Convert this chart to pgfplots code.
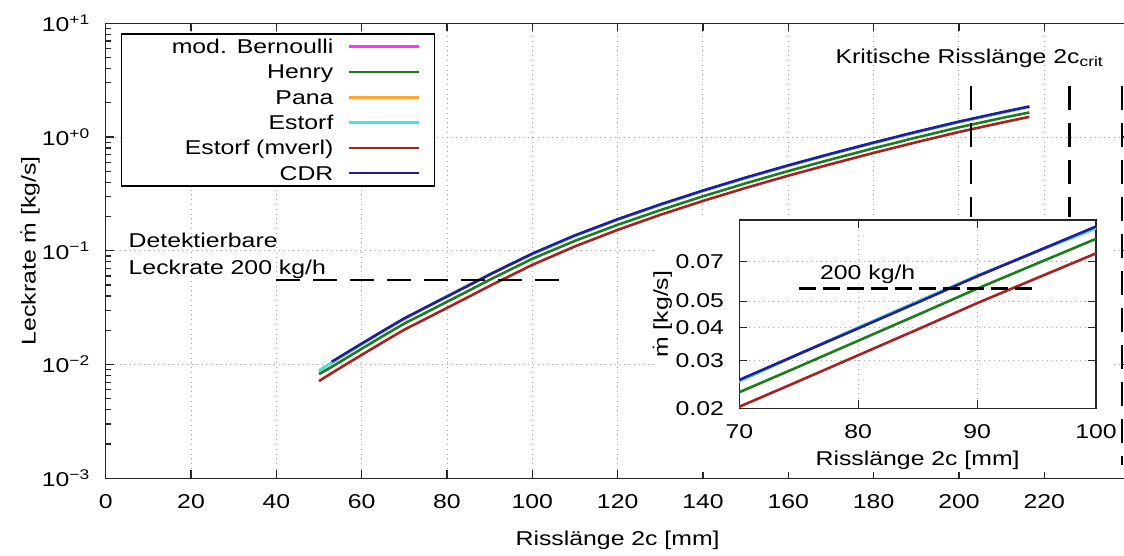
\documentclass[border=0pt]{standalone}
\usepackage{pgfplots}
\pgfplotsset{compat=1.18}
\usepackage{amsmath}
\usepackage{fontspec}
\setmainfont{Liberation Sans}[FakeStretch=1.24]
\definecolor{cMag}{HTML}{FF33FF}
\definecolor{cGreen}{HTML}{1E7B1E}
\definecolor{cOrange}{HTML}{FFA633}
\definecolor{cCyan}{HTML}{3DE8E8}
\definecolor{cRed}{HTML}{A52222}
\definecolor{cBlue}{HTML}{1F1F99}
\begin{document}
\fontsize{10}{12}\selectfont
\begin{tikzpicture}
\pgfplotsset{
  every axis/.append style={
    font=\fontsize{10}{12}\selectfont,
    grid=major, grid style={dotted, gray!70, line width=0.5pt},
    major tick length=4pt, minor tick length=2.5pt,
    tick style={black!85, line width=0.6pt},
    axis line style={black!85, line width=0.7pt},
    xticklabel style={yshift=-4.7pt},
    yticklabel style={xshift=-4.2pt},
  },
}
\begin{axis}[
  name=main,
  scale only axis, width=511.95pt, height=227.5pt,
  xmin=0, xmax=240, ymode=log, ymin=1e-3, ymax=10,
  xtick={0,20,...,220},
  xticklabels={0,20,40,60,80,100,120,140,160,180,200,220},
  ytick={1e-3,1e-2,1e-1,1,10},
  yticklabels={10\textsuperscript{−3},10\textsuperscript{−2},10\textsuperscript{−1},10\textsuperscript{+0},10\textsuperscript{+1}},
  xlabel={Risslänge 2c [mm]},
  ylabel={Leckrate $\dot{\text{m}}$ [kg/s]},
  every axis x label/.style={at={(rel axis cs:0.5,0)}, yshift=-30.85pt, anchor=center},
  every axis y label/.style={at={(rel axis cs:0,0.5)}, xshift=-37.85pt, rotate=90, anchor=center},
  legend style={at={(axis description cs:0,1)}, anchor=north west, xshift=7.5pt, yshift=-5pt,
    draw=black, line width=0.7pt, inner sep=0pt, fill=white, row sep=0pt,
    nodes={text width=104pt, align=right, inner xsep=2pt, inner ysep=1.5pt, text height=8.3pt, text depth=1.35pt}},
  legend plot pos=right, legend cell align=right,
  legend image code/.code={\path[draw=none,fill=none] (0pt,-0.1pt) rectangle (48.65pt,0.1pt); \draw[#1, line width=1.3pt] (5.65pt,0pt) -- (40.65pt,0pt);},
]
\addplot[cMag, line width=1.3pt] coordinates {(50,0.00883) (53,0.0104) (60,0.0151) (65,0.0196) (70,0.0252) (75,0.0318) (80,0.0399) (85,0.0498) (90,0.0621) (95,0.0763) (100,0.0932) (110,0.1354) (120,0.1878) (130,0.2533) (140,0.3354) (150,0.4362) (160,0.5593) (170,0.7074) (180,0.8864) (190,1.101) (200,1.354) (210,1.635) (216.5,1.839)};
\addlegendentry{mod. Bernoulli}
\addplot[cGreen, line width=1.3pt] coordinates {(50,0.00826) (53,0.00954) (60,0.01377) (65,0.01782) (70,0.02295) (75,0.02856) (80,0.03564) (85,0.04446) (90,0.05562) (95,0.06885) (100,0.08514) (110,0.1224) (120,0.1693) (130,0.2278) (140,0.3015) (150,0.3921) (160,0.5028) (170,0.6359) (180,0.7969) (190,0.9897) (200,1.2175) (210,1.470) (216.5,1.645)};
\addlegendentry{Henry}
\addplot[cOrange, line width=1.3pt] coordinates {(50,0.00883) (53,0.0104) (60,0.0151) (65,0.0196) (70,0.0252) (75,0.0318) (80,0.0399) (85,0.0498) (90,0.0621) (95,0.0763) (100,0.0932) (110,0.1354) (120,0.1878) (130,0.2533) (140,0.3354) (150,0.4362) (160,0.5593) (170,0.7074) (180,0.8864) (190,1.101) (200,1.354) (210,1.635) (216.5,1.839)};
\addlegendentry{Pana}
\addplot[cCyan, line width=1.3pt] coordinates {(50,0.00883) (53,0.0104) (60,0.0151) (65,0.0196) (70,0.0252) (75,0.0318) (80,0.0399) (85,0.0498) (90,0.0621) (95,0.0763) (100,0.0932) (110,0.1354) (120,0.1878) (130,0.2533) (140,0.3354) (150,0.4362) (160,0.5593) (170,0.7074) (180,0.8864) (190,1.101) (200,1.354) (210,1.635) (216.5,1.839)};
\addlegendentry{Estorf}
\addplot[cRed, line width=1.3pt] coordinates {(50,0.00716) (53,0.00843) (60,0.01216) (65,0.01574) (70,0.02027) (75,0.02523) (80,0.03148) (85,0.03927) (90,0.04913) (95,0.06082) (100,0.07521) (110,0.1094) (120,0.1527) (130,0.2072) (140,0.2744) (150,0.3569) (160,0.4576) (170,0.5787) (180,0.7253) (190,0.9007) (200,1.108) (210,1.338) (216.5,1.505)};
\addlegendentry{Estorf (mverl)}
\addplot[cBlue, line width=1.3pt] coordinates {(53,0.0106) (60,0.0153) (65,0.0198) (70,0.0255) (75,0.0318) (80,0.0396) (85,0.0494) (90,0.0618) (95,0.0765) (100,0.0946) (110,0.1368) (120,0.1897) (130,0.2559) (140,0.3388) (150,0.4406) (160,0.5649) (170,0.7145) (180,0.8954) (190,1.112) (200,1.368) (210,1.652) (216.5,1.858)};
\addlegendentry{CDR}
\addplot[forget plot, black, line width=1.2pt, dash pattern=on 12pt off 6.5pt] coordinates {(40,0.0556) (108,0.0556)};
\addplot[forget plot, black, line width=1.2pt, dash pattern=on 12pt off 6.5pt] coordinates {(202.8,2.8) (202.8,0.0013)};
\addplot[forget plot, black, line width=1.2pt, dash pattern=on 12pt off 6.5pt] coordinates {(225.9,2.8) (225.9,0.0013)};
\addplot[forget plot, black, line width=1.2pt, dash pattern=on 12pt off 6.5pt] coordinates {(238.2,2.8) (238.2,0.0013)};
\node[anchor=base west, inner sep=0pt] at (axis cs:171,4.47) {Kritische Risslänge 2c\textsubscript{crit}};
\node[anchor=base west, inner sep=0pt] at (axis cs:5.3,0.108) {Detektierbare};
\node[anchor=base west, inner sep=0pt] at (axis cs:5.3,0.0613) {Leckrate 200 kg/h};
\end{axis}
\fill[white] ([xshift=276pt, yshift=3.15pt]main.south west) rectangle ([xshift=502pt, yshift=130.8pt]main.south west);
\begin{axis}[
  name=inset, at={(main.south west)}, xshift=316.8pt, yshift=35pt, anchor=south west,
  scale only axis, width=178.35pt, height=94.15pt,
  xmin=70, xmax=100, ymode=log, ymin=0.02, ymax=0.1,
  xtick={70,80,90,100}, xticklabels={70,80,90,100},
  ytick={0.02,0.03,0.04,0.05,0.07}, yticklabels={0.02,0.03,0.04,0.05,0.07},
  minor ytick={},
  axis background/.style={fill=white},
  xlabel={Risslänge 2c [mm]},
  ylabel={$\dot{\text{m}}$ [kg/s]},
  every axis x label/.style={at={(rel axis cs:0.5,0)}, yshift=-25.85pt, anchor=center},
  every axis y label/.style={at={(rel axis cs:0,0.5)}, xshift=-38.5pt, rotate=90, anchor=center},
]
\addplot[cMag, line width=1.3pt] coordinates {(65,0.0196) (70,0.0252) (75,0.0318) (80,0.0399) (85,0.0498) (90,0.0621) (95,0.0763) (100,0.0932) (110,0.1354)};
\addplot[cGreen, line width=1.3pt] coordinates {(65,0.01782) (70,0.02295) (75,0.02856) (80,0.03564) (85,0.04446) (90,0.05562) (95,0.06885) (100,0.08514) (110,0.1224)};
\addplot[cOrange, line width=1.3pt] coordinates {(65,0.0196) (70,0.0252) (75,0.0318) (80,0.0399) (85,0.0498) (90,0.0621) (95,0.0763) (100,0.0932) (110,0.1354)};
\addplot[cCyan, line width=1.3pt] coordinates {(65,0.0196) (70,0.0252) (75,0.0318) (80,0.0399) (85,0.0498) (90,0.0621) (95,0.0763) (100,0.0932) (110,0.1354)};
\addplot[cRed, line width=1.3pt] coordinates {(65,0.01574) (70,0.02027) (75,0.02523) (80,0.03148) (85,0.03927) (90,0.04913) (95,0.06082) (100,0.07521) (110,0.1094)};
\addplot[cBlue, line width=1.3pt] coordinates {(65,0.0198) (70,0.0255) (75,0.0318) (80,0.0396) (85,0.0494) (90,0.0618) (95,0.0765) (100,0.0946) (110,0.1368)};
\addplot[black, line width=1.2pt, dash pattern=on 8.5pt off 3.5pt] coordinates {(75,0.0556) (95,0.0556)};
\node[anchor=base, inner sep=0pt] at (axis cs:80.8,0.0602) {200 kg/h};
\end{axis}
\pgfresetboundingbox
\useasboundingbox ([xshift=-52.85pt,yshift=-38.35pt]main.south west) rectangle ([xshift=-2.8pt,yshift=11.65pt]main.north east);
\end{tikzpicture}
\end{document}
